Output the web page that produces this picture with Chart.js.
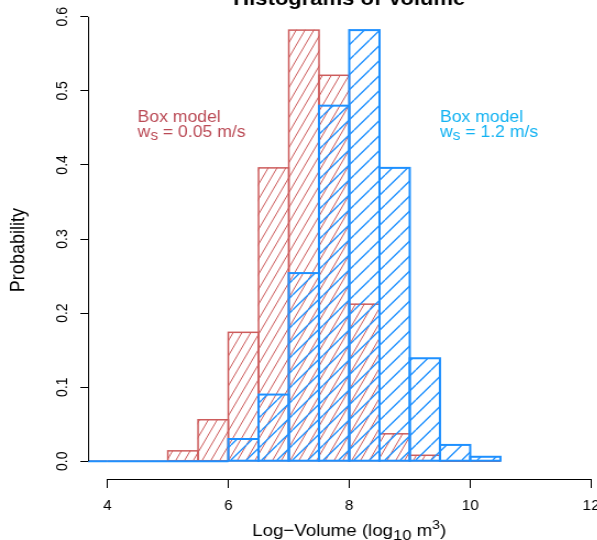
<!DOCTYPE html>
<html>
<head>
<meta charset="utf-8">
<script src="https://cdn.jsdelivr.net/npm/chart.js@4"></script>
<style>
  body { margin: 0; overflow: hidden; background: #fff; }
  /* the original picture is stretched sideways, so is this one */
  #wrap { position: absolute; left: 0; top: -20px; transform: scaleX(1.1); transform-origin: 0 0; }
</style>
</head>
<body>
<div id="wrap"><canvas id="c" width="600" height="560"></canvas></div>
<script>
// histogram bins (left edges, log10 m^3)
var binStart = [3.5, 4.0, 4.5, 5.0, 5.5, 6.0, 6.5, 7.0, 7.5, 8.0, 8.5, 9.0, 9.5, 10.0];
var binWidth = 0.5;
// ws = 0.05 m/s
var slowProb = [0, 0, 0, 0.014, 0.056, 0.174, 0.396, 0.582, 0.521, 0.212, 0.037, 0.008, 0, 0];
// ws = 1.2 m/s
var fastProb = [0, 0, 0, 0, 0, 0.030, 0.090, 0.254, 0.480, 0.582, 0.396, 0.139, 0.022, 0.006];

var xTicks = [4, 6, 8, 10, 12];
var yTicks = [0, 0.1, 0.2, 0.3, 0.4, 0.5, 0.6];
var yTickLabels = ["0.0", "0.1", "0.2", "0.3", "0.4", "0.5", "0.6"];

var RED = "#CD5C5C", BLUE = "#1E90FF";
var REDTXT = "#BA4A55", BLUETXT = "#12B2F2";
var FONT = "'Liberation Sans', Arial, sans-serif";

function hatch(w, h, color, lw) {
	var c = document.createElement("canvas");
	c.width = w; c.height = h;
	var g = c.getContext("2d");
	g.strokeStyle = color;
	g.lineWidth = lw;
	g.beginPath();
	[-w, 0, w].forEach(function(dx) {
		g.moveTo(dx, h);
		g.lineTo(dx + w, 0);
	});
	g.stroke();
	return g.createPattern(c, "repeat");
}

function toPoints(vals) {
	return binStart.map(function(b, i) { return {x: b + binWidth / 2, y: vals[i]}; });
}

// R style rectangles: edges centred on the bar outline, zero bins give the base line
var histOutline = {
	id: "histOutline",
	afterDatasetDraw: function(chart, args) {
		var ds = chart.data.datasets[args.index];
		var ctx = chart.ctx, a = chart.chartArea;
		ctx.save();
		ctx.beginPath();
		ctx.rect(a.left, a.top, a.right - a.left, a.bottom - a.top);
		ctx.clip();
		ctx.strokeStyle = ds.edgeColor;
		ctx.lineWidth = ds.edgeWidth;
		args.meta.data.forEach(function(bar) {
			var p = bar.getProps(["x", "y", "base", "width"], true);
			ctx.strokeRect(p.x - p.width / 2, p.y, p.width, p.base - p.y);
		});
		ctx.restore();
	}
};

// draw a run of text pieces (for sub/superscripts)
function richText(ctx, parts, x, y, align) {
	var total = 0;
	parts.forEach(function(p) {
		ctx.font = (p.bold ? "bold " : "") + p.size + "px " + FONT;
		p.w = ctx.measureText(p.t).width;
		total += p.w;
	});
	var cx = align === "center" ? x - total / 2 : x;
	ctx.textAlign = "left";
	parts.forEach(function(p) {
		ctx.font = (p.bold ? "bold " : "") + p.size + "px " + FONT;
		ctx.fillText(p.t, cx, y + (p.dy || 0));
		cx += p.w;
	});
}

var annotations = {
	id: "annotations",
	afterDraw: function(chart) {
		var ctx = chart.ctx, a = chart.chartArea;
		var xs = chart.scales.x, ys = chart.scales.y;
		ctx.save();
		// axis lines only span the tick range
		ctx.strokeStyle = "#000";
		ctx.lineWidth = 1;
		ctx.beginPath();
		ctx.moveTo(a.left + 0.5, ys.getPixelForValue(yTicks[0]));
		ctx.lineTo(a.left + 0.5, ys.getPixelForValue(yTicks[yTicks.length - 1]));
		ctx.moveTo(xs.getPixelForValue(xTicks[0]), a.bottom + 0.5);
		ctx.lineTo(xs.getPixelForValue(xTicks[xTicks.length - 1]), a.bottom + 0.5);
		ctx.stroke();

		ctx.textBaseline = "alphabetic";
		ctx.fillStyle = "#000";
		var mid = (a.left + a.right) / 2;
		richText(ctx, [{t: "Histograms of Volume", size: 20, bold: true}], mid, a.top + 6, "center");
		richText(ctx, [
			{t: "Log\u2212Volume (log", size: 17},
			{t: "10", size: 15, dy: 4},
			{t: " m", size: 17},
			{t: "3", size: 13, dy: -7},
			{t: ")", size: 17}
		], mid, a.bottom + 57, "center");

		// y title sits a little below the middle of the axis, as in the original
		ctx.save();
		ctx.translate(17, ys.getPixelForValue(0.285));
		ctx.rotate(-Math.PI / 2);
		ctx.textBaseline = "middle";
		richText(ctx, [{t: "Probability", size: 18}], 0, 0, "center");
		ctx.restore();

		// labels for the two runs
		ctx.textBaseline = "alphabetic";
		ctx.fillStyle = REDTXT;
		var lx = xs.getPixelForValue(4.5);
		richText(ctx, [{t: "Box model", size: 16}], lx, ys.getPixelForValue(0.458), "left");
		richText(ctx, [{t: "w", size: 16}, {t: "s", size: 14, dy: 3}, {t: " = 0.05 m/s", size: 16}], lx, ys.getPixelForValue(0.438), "left");
		ctx.fillStyle = BLUETXT;
		lx = xs.getPixelForValue(9.5);
		richText(ctx, [{t: "Box model", size: 16}], lx, ys.getPixelForValue(0.458), "left");
		richText(ctx, [{t: "w", size: 16}, {t: "s", size: 14, dy: 3}, {t: " = 1.2 m/s", size: 16}], lx, ys.getPixelForValue(0.438), "left");
		ctx.restore();
	}
};

Chart.defaults.font.family = FONT;
Chart.defaults.color = "#000";

new Chart(document.getElementById("c"), {
	type: "bar",
	data: {
		datasets: [{
			label: "ws = 0.05 m/s",
			data: toPoints(slowProb),
			backgroundColor: hatch(8, 15, RED, 1),
			borderWidth: 0,
			edgeColor: RED,
			edgeWidth: 1.5,
			grouped: false,
			barPercentage: 1,
			categoryPercentage: 1,
			order: 2
		}, {
			label: "ws = 1.2 m/s",
			data: toPoints(fastProb),
			backgroundColor: hatch(14, 15, BLUE, 1.4),
			borderWidth: 0,
			edgeColor: BLUE,
			edgeWidth: 2,
			grouped: false,
			barPercentage: 1,
			categoryPercentage: 1,
			order: 1
		}]
	},
	options: {
		responsive: false,
		animation: false,
		devicePixelRatio: 1,
		layout: { padding: { top: 19, right: 45, bottom: 0, left: 0 } },
		plugins: { legend: { display: false }, tooltip: { enabled: false } },
		scales: {
			x: {
				type: "linear",
				offset: false,
				min: 3.68,
				max: 12.32,
				afterBuildTicks: function(s) { s.ticks = xTicks.map(function(v) { return {value: v}; }); },
				afterFit: function(s) { s.height = 61; s.paddingLeft = 0; s.paddingRight = 0; },
				ticks: { font: { size: 14 }, padding: 10, maxRotation: 0, autoSkip: false,
					callback: function(v) { return String(v); } },
				grid: { offset: false, drawOnChartArea: false, drawTicks: true, tickLength: 9, color: "#000" },
				border: { display: false }
			},
			y: {
				min: -0.024,
				max: 0.624,
				afterBuildTicks: function(s) { s.ticks = yTicks.map(function(v) { return {value: v}; }); },
				afterFit: function(s) { s.width = 80; s.paddingTop = 0; s.paddingBottom = 0; },
				ticks: { font: { size: 14 }, padding: 6, minRotation: 90, maxRotation: 90, crossAlign: "center",
					callback: function(v) { return yTickLabels[yTicks.indexOf(v)]; } },
				grid: { drawOnChartArea: false, drawTicks: true, tickLength: 7, color: "#000" },
				border: { display: false }
			}
		}
	},
	plugins: [histOutline, annotations]
});
</script>
</body>
</html>
